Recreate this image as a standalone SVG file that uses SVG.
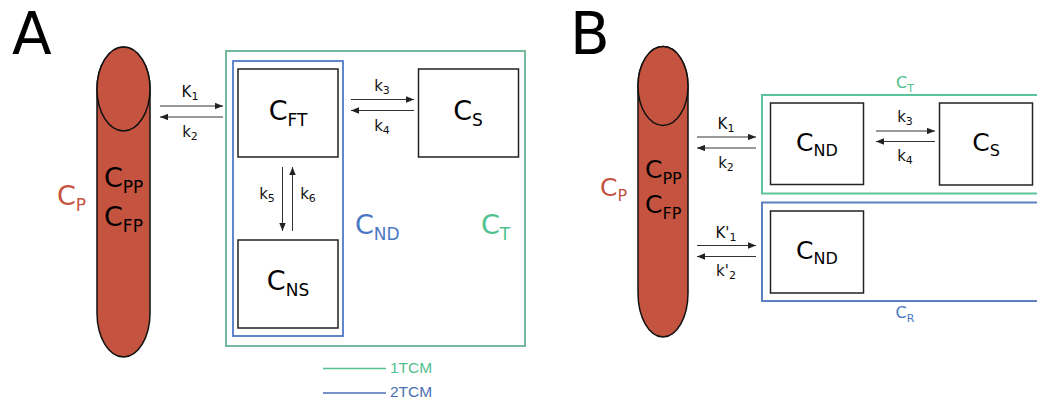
<svg xmlns="http://www.w3.org/2000/svg" width="1037" height="403" viewBox="0 0 1037 403">
<defs>
<marker id="ah" viewBox="0 0 10 8" refX="10" refY="4" markerWidth="8" markerHeight="6.4" markerUnits="userSpaceOnUse" orient="auto">
<path d="M0,0 L10,4 L0,8 Z" fill="#222"/>
</marker>
<style>
text{font-family:"DejaVu Sans",sans-serif;}
.big{font-size:58px;fill:#000;}
.main{font-size:27px;fill:#000;}
.mainb{font-size:25px;fill:#000;}
.lbl{font-size:15px;fill:#111;}
.box{fill:#fff;stroke:#222;stroke-width:1.5;}
.arr{stroke:#333;stroke-width:1;fill:none;marker-end:url(#ah);}
.cyl{fill:#c4533f;stroke:#111;stroke-width:1.5;}
.red{fill:#c4533f;}
.grn{fill:#4fc18e;}
.blu{fill:#4a77c4;}
.leg{font-family:"Liberation Sans",Arial,sans-serif;font-size:15.5px;}
</style>
</defs>

<!-- Panel A -->
<text class="big" x="12" y="54">A</text>

<g id="A-plasma">
<path class="cyl" d="M97,89 A26.5,42 0 0 1 150,89 L150,313 A26.5,44 0 0 1 97,313 Z"/>
<ellipse class="cyl" cx="123.5" cy="89" rx="26.5" ry="42"/>
<text class="main" x="104" y="187">C<tspan font-size="17" dy="6">PP</tspan></text>
<text class="main" x="104" y="226">C<tspan font-size="17" dy="6">FP</tspan></text>
<text class="main red" x="57" y="205">C<tspan font-size="17" dy="6">P</tspan></text>
</g>

<g id="A-CT">
<rect x="226" y="51" width="299" height="295" fill="none" stroke="#73b99c" stroke-width="2"/>
<text class="main grn" x="481" y="234">C<tspan font-size="17" dy="6">T</tspan></text>
</g>

<g id="A-CND">
<rect x="233" y="61" width="110" height="275" fill="none" stroke="#4f7bc9" stroke-width="1.8"/>
<text class="main blu" x="355" y="234">C<tspan font-size="17" dy="6">ND</tspan></text>
</g>

<g id="A-CFT">
<rect class="box" x="238" y="69" width="100" height="88"/>
<text class="main" x="288" y="120" text-anchor="middle">C<tspan font-size="17" dy="6">FT</tspan></text>
</g>

<g id="A-CNS">
<rect class="box" x="238" y="240" width="100" height="88"/>
<text class="main" x="288" y="290" text-anchor="middle">C<tspan font-size="17" dy="6">NS</tspan></text>
</g>

<g id="A-CS">
<rect class="box" x="418.5" y="69" width="100" height="88"/>
<text class="main" x="468" y="120" text-anchor="middle">C<tspan font-size="17" dy="6">S</tspan></text>
</g>

<g id="A-connectors">
<line class="arr" x1="160" y1="106" x2="223" y2="106"/>
<line class="arr" x1="223" y1="117" x2="160" y2="117"/>
<line class="arr" x1="351" y1="99.5" x2="414" y2="99.5"/>
<line class="arr" x1="414" y1="110.5" x2="351" y2="110.5"/>
<line class="arr" x1="282.5" y1="167" x2="282.5" y2="231"/>
<line class="arr" x1="292.5" y1="231" x2="292.5" y2="167"/>
<text class="lbl" x="190" y="97" text-anchor="middle">K<tspan font-size="11" dy="3">1</tspan></text>
<text class="lbl" x="190" y="137" text-anchor="middle">k<tspan font-size="11" dy="3">2</tspan></text>
<text class="lbl" x="382" y="91" text-anchor="middle">k<tspan font-size="11" dy="3">3</tspan></text>
<text class="lbl" x="382" y="131" text-anchor="middle">k<tspan font-size="11" dy="3">4</tspan></text>
<text class="lbl" x="267" y="199" text-anchor="middle">k<tspan font-size="11" dy="3">5</tspan></text>
<text class="lbl" x="308" y="199" text-anchor="middle">k<tspan font-size="11" dy="3">6</tspan></text>
</g>

<g id="A-legend">
<line x1="323" y1="368.5" x2="386" y2="368.5" stroke="#52c08e" stroke-width="1.5"/>
<text class="leg" x="390" y="372.5" fill="#52c08e">1TCM</text>
<line x1="323" y1="393" x2="386" y2="393" stroke="#4a6fb5" stroke-width="1.5"/>
<text class="leg" x="390" y="397" fill="#4a6fb5">2TCM</text>
</g>

<!-- Panel B -->
<text class="big" x="570" y="54">B</text>

<g id="B-plasma">
<path class="cyl" d="M638,86 A25,39.5 0 0 1 688,86 L688,293 A25,44 0 0 1 638,293 Z"/>
<ellipse class="cyl" cx="663" cy="86" rx="25" ry="39.5"/>
<text class="mainb" x="645" y="178">C<tspan font-size="16" dy="6">PP</tspan></text>
<text class="mainb" x="645" y="213">C<tspan font-size="16" dy="6">FP</tspan></text>
<text class="mainb red" x="600" y="196">C<tspan font-size="16" dy="5">P</tspan></text>
</g>

<g id="B-CT">
<path d="M1040,95 L762,95 L762,193.5 L1040,193.5" fill="none" stroke="#5cc49a" stroke-width="2"/>
<text x="905" y="88" text-anchor="middle" font-size="16" class="grn">C<tspan font-size="11" dy="4">T</tspan></text>
</g>

<g id="B-CR">
<path d="M1040,202.5 L762,202.5 L762,301 L1040,301" fill="none" stroke="#5b80c0" stroke-width="2"/>
<text x="905" y="318" text-anchor="middle" font-size="16" class="blu">C<tspan font-size="11" dy="4">R</tspan></text>
</g>

<g id="B-CND1">
<rect class="box" x="770.5" y="103" width="93" height="81.5"/>
<text class="mainb" x="817" y="151" text-anchor="middle">C<tspan font-size="16" dy="5">ND</tspan></text>
</g>

<g id="B-CS">
<rect class="box" x="939.5" y="103" width="93" height="82"/>
<text class="mainb" x="986" y="151" text-anchor="middle">C<tspan font-size="16" dy="5">S</tspan></text>
</g>

<g id="B-CND2">
<rect class="box" x="770.5" y="211" width="93" height="82"/>
<text class="mainb" x="817" y="259" text-anchor="middle">C<tspan font-size="16" dy="5">ND</tspan></text>
</g>

<g id="B-connectors">
<line class="arr" x1="697" y1="137" x2="756" y2="137"/>
<line class="arr" x1="756" y1="148" x2="697" y2="148"/>
<line class="arr" x1="876" y1="131" x2="935" y2="131"/>
<line class="arr" x1="935" y1="141.5" x2="876" y2="141.5"/>
<line class="arr" x1="697" y1="245.5" x2="756" y2="245.5"/>
<line class="arr" x1="756" y1="256.5" x2="697" y2="256.5"/>
<text class="lbl" x="726" y="129" text-anchor="middle">K<tspan font-size="11" dy="3">1</tspan></text>
<text class="lbl" x="726" y="168" text-anchor="middle">k<tspan font-size="11" dy="3">2</tspan></text>
<text class="lbl" x="905" y="122" text-anchor="middle">k<tspan font-size="11" dy="3">3</tspan></text>
<text class="lbl" x="905" y="161" text-anchor="middle">k<tspan font-size="11" dy="3">4</tspan></text>
<text class="lbl" x="726" y="238" text-anchor="middle">K'<tspan font-size="11" dy="3">1</tspan></text>
<text class="lbl" x="726" y="276" text-anchor="middle">k'<tspan font-size="11" dy="3">2</tspan></text>
</g>
</svg>
